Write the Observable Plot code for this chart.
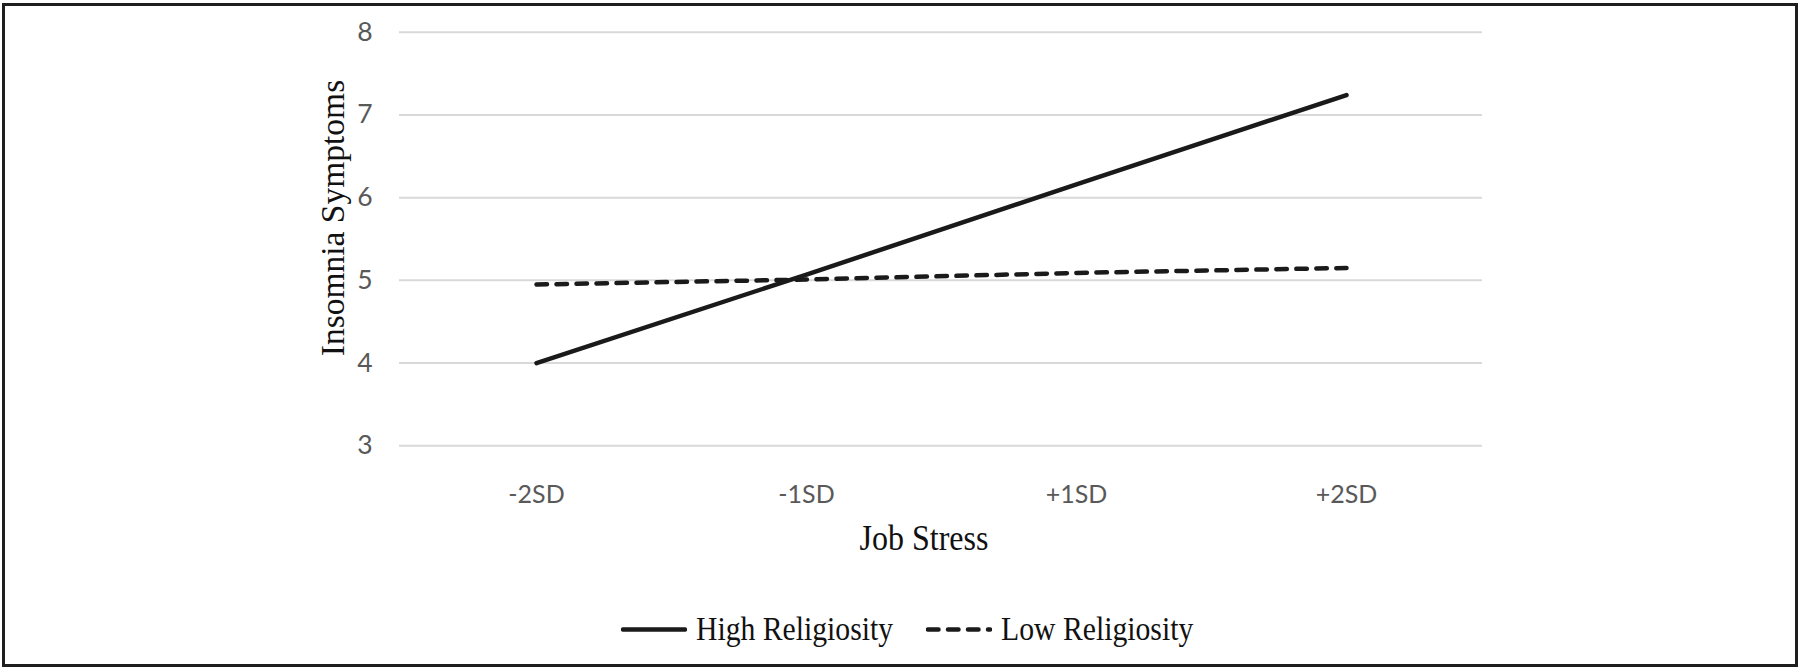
<!DOCTYPE html>
<html>
<head>
<meta charset="utf-8">
<script src="https://cdn.jsdelivr.net/npm/d3@7"></script>
<script src="https://cdn.jsdelivr.net/npm/@observablehq/plot@0.6"></script>
<style>
  html, body { margin: 0; padding: 0; background: #fff; }
  #wrap { position: relative; width: 1800px; height: 670px; overflow: hidden; background: #fff; }
  #frame { position: absolute; left: 2px; top: 3px; width: 1796px; height: 664px; box-sizing: border-box; border: 3px solid #1e1e1e; pointer-events: none; }
  #chart { position: absolute; left: 0; top: 0; }
  .title { position: absolute; font-family: "Liberation Serif", "Times New Roman", serif; color: #111; white-space: nowrap; }
  #xtitle { font-size: 32px; left: 924px; top: 538px; transform: translate(-50%, -50%) scale(1, 1.15); }
  #ytitle { font-size: 33.5px; left: 333px; top: 218px; transform: translate(-50%, -50%) rotate(-90deg); }
  #legend { position: absolute; left: 621px; top: 629px; transform: translateY(-50%); display: flex; align-items: center; font-family: "Liberation Serif", "Times New Roman", serif; font-size: 29.7px; color: #111; white-space: nowrap; }
  #legend .item { display: flex; align-items: center; }
  #legend svg { display: block; }
</style>
</head>
<body>
<div id="wrap">
  <div id="chart"></div>
  <div id="xtitle" class="title"></div>
  <div id="ytitle" class="title"></div>
  <div id="legend"></div>
  <div id="frame"></div>
</div>
<script>
// ---- data ----
const categories = ["-2SD", "-1SD", "+1SD", "+2SD"];
const highReligiosity = [4.00, 5.07, 6.16, 7.24];
const lowReligiosity = [4.95, 5.01, 5.09, 5.15];
const seriesNames = ["High Religiosity", "Low Religiosity"];
const yTicks = [3, 4, 5, 6, 7, 8];
const xTitle = "Job Stress";
const yTitle = "Insomnia Symptoms";

const rows = [];
categories.forEach((c, i) => {
  rows.push({stress: c, value: highReligiosity[i], group: seriesNames[0]});
  rows.push({stress: c, value: lowReligiosity[i], group: seriesNames[1]});
});
const highRows = rows.filter(d => d.group === seriesNames[0]);
const lowRows = rows.filter(d => d.group === seriesNames[1]);

const chart = Plot.plot({
  width: 1800,
  height: 570,
  marginLeft: 399,
  marginRight: 318,
  marginTop: 31.7,
  marginBottom: 124.7,
  style: {fontFamily: "Lato, 'Open Sans', sans-serif", fontSize: "25px", color: "#595959", background: "transparent", overflow: "visible"},
  x: {type: "point", domain: categories, padding: 0.5, label: null},
  y: {domain: [3, 8], label: null},
  marks: [
    Plot.gridY(yTicks, {stroke: "#d9d9d9", strokeOpacity: 1, strokeWidth: 2}),
    Plot.axisY(yTicks, {tickSize: 0, tickPadding: 27, tickFormat: d3.format("d"), label: null, fill: "#595959", fontSize: 26.5}),
    Plot.axisX({tickSize: 0, tickPadding: 39, label: null, fill: "#595959", fontSize: 25}),
    Plot.line(lowRows, {x: "stress", y: "value", stroke: "#1a1a1a", strokeWidth: 4.5, strokeDasharray: "10.5,9.5", strokeLinecap: "round"}),
    Plot.line(highRows, {x: "stress", y: "value", stroke: "#1a1a1a", strokeWidth: 4.5, strokeLinecap: "round"})
  ]
});
document.getElementById("chart").appendChild(chart);

document.getElementById("xtitle").textContent = xTitle;
document.getElementById("ytitle").textContent = yTitle;

// legend
const legend = document.getElementById("legend");
const dashes = [null, "10.5,9.5"];
seriesNames.forEach((name, i) => {
  const item = document.createElement("div");
  item.className = "item";
  if (i > 0) item.style.marginLeft = "33px";
  const svg = d3.create("svg").attr("width", 66).attr("height", 10);
  svg.append("line").attr("x1", 2).attr("x2", 64).attr("y1", 5).attr("y2", 5)
    .attr("stroke", "#1a1a1a").attr("stroke-width", 4.5).attr("stroke-linecap", "round")
    .attr("stroke-dasharray", dashes[i]);
  item.appendChild(svg.node());
  const label = document.createElement("span");
  label.textContent = name;
  label.style.marginLeft = "9px";
  label.style.display = "inline-block";
  label.style.transform = "scale(1, 1.12)";
  item.appendChild(label);
  legend.appendChild(item);
});
</script>
</body>
</html>
